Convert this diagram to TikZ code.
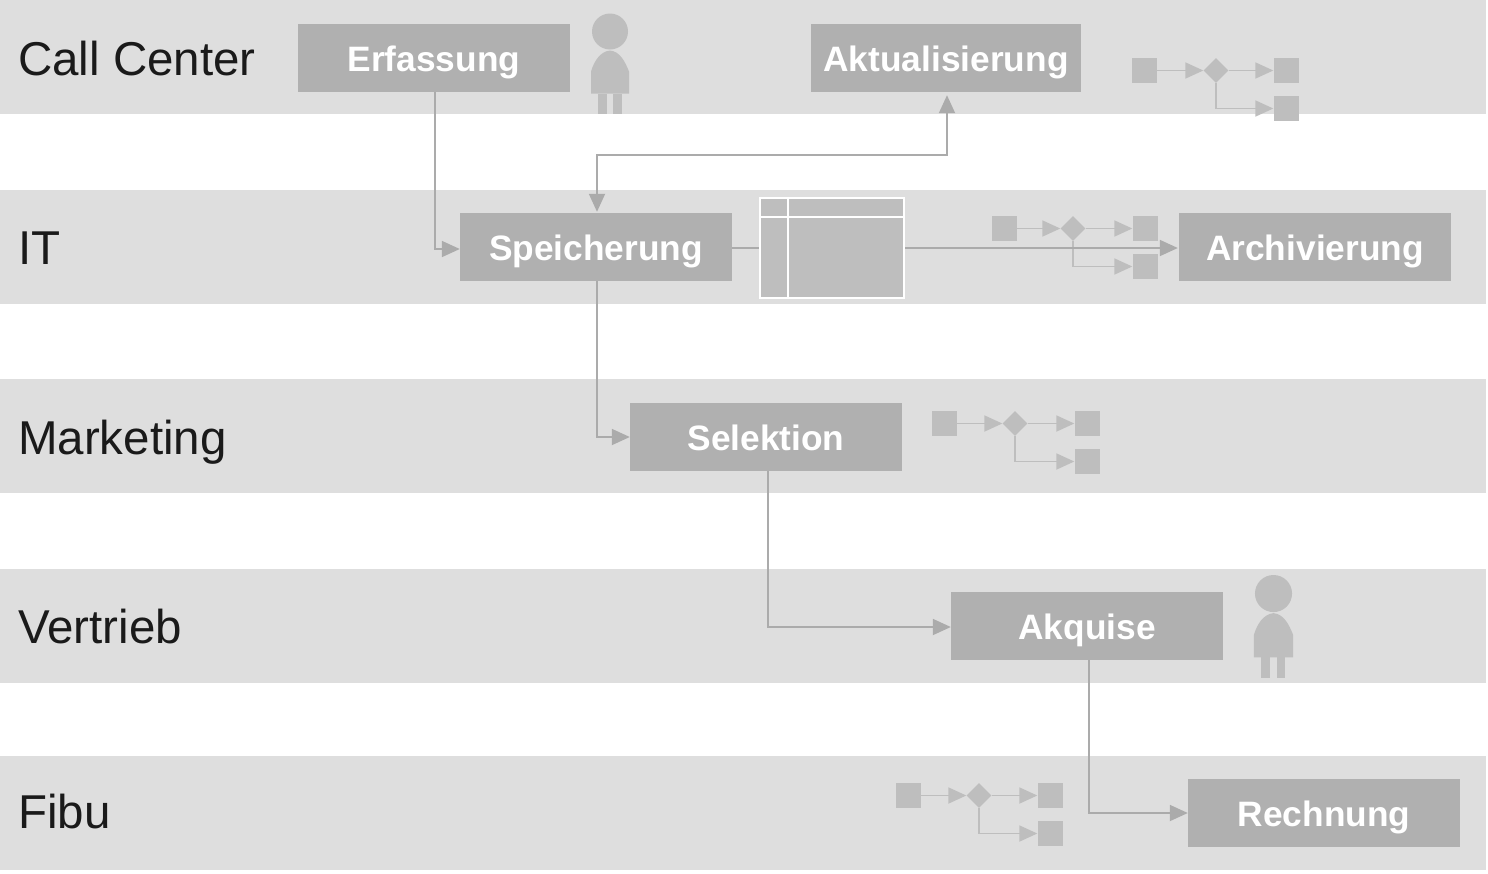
\documentclass[tikz,border=0pt]{standalone}
\usepackage{fontspec}
\setmainfont{Liberation Sans}
\usetikzlibrary{arrows.meta,shapes.geometric}
\definecolor{bandc}{HTML}{DEDEDE}
\definecolor{boxc}{HTML}{B0B0B0}
\definecolor{linec}{HTML}{ABABAB}
\definecolor{minic}{HTML}{BEBEBE}
\definecolor{labelc}{HTML}{1A1A1A}
\tikzset{
  band/.style={fill=bandc,draw=none},
  lane/.style={anchor=west,inner sep=0pt,text=labelc,text height=34pt,text depth=0pt,font=\fontsize{47.5}{50}\selectfont},
  stepbox/.style={fill=boxc,draw=none,inner sep=0pt,minimum height=68pt,minimum width=272pt,text=white,text height=26.5pt,text depth=0pt,font=\fontsize{35.3}{38}\bfseries\selectfont},
  flow/.style={draw=linec,line width=1.8pt,-{Triangle[length=18pt,width=16pt]}},
  flowplain/.style={draw=linec,line width=1.8pt},
  minibox/.style={fill=minic,draw=none,inner sep=0pt,minimum width=25pt,minimum height=25pt},
  minidia/.style={fill=minic,draw=none,diamond,inner sep=0pt,minimum width=25pt,minimum height=25pt},
  miniflow/.style={draw=minic,line width=1.8pt,-{Triangle[length=18pt,width=16pt]}},
  person/.style={fill=minic,draw=none},
  cell/.style={fill=minic,draw=white,line width=2.4pt,inner sep=0pt},
}
% #1 name prefix, #2 x of left square, #3 y of its top, #4 diamond offset, #5 right square offset
\newcommand{\miniproc}[5]{%
  \node[minibox] (#1a) at (#2+12.5,#3+12.5) {};
  \node[minidia] (#1d) at (#2+#4,#3+12.5) {};
  \node[minibox] (#1b) at (#2+#5,#3+12.5) {};
  \node[minibox] (#1c) at (#2+#5,#3+50.5) {};
  \draw[miniflow] (#1a.east) -- (#1d.west);
  \draw[miniflow] (#1d.east) -- (#1b.west);
  \draw[miniflow] (#1d.south) |- (#1c.west);
}
% #1 x centre, #2 y top of head, #3 scale
\newcommand{\persona}[3]{%
  \begin{scope}[shift={(#1,#2)},scale=#3]
    \fill[person] (0,18) circle (18pt);
    \fill[person] (-19,80) -- (-19,58) .. controls (-16,48) and (-10,38) .. (0,37) .. controls (10,38) and (15,48) .. (19,58) -- (19,80) -- cycle;
    \fill[person] (-12,80) rectangle (-3.5,100);
    \fill[person] (3,80) rectangle (11.5,100);
  \end{scope}
}
\begin{document}
\begin{tikzpicture}[x=1pt,y=-1pt]
\useasboundingbox (0,0) rectangle (1488,873);
\fill[white] (0,0) rectangle (1488,873);
% lanes
\fill[band] (0,0) rectangle (1486,114);
\fill[band] (0,190) rectangle (1486,304);
\fill[band] (0,379) rectangle (1486,493);
\fill[band] (0,569) rectangle (1486,683);
\fill[band] (0,756) rectangle (1486,870);
\node[lane] (l1) at (18,58.5) {Call Center};
\node[lane] (l2) at (18,247.5) {IT};
\node[lane] (l3) at (18,437.5) {Marketing};
\node[lane] (l4) at (18,626.5) {Vertrieb};
\node[lane] (l5) at (18,811.5) {Fibu};
% mini processes
\miniproc{ma}{1132}{58}{84}{154}
\miniproc{mb}{992}{216}{81}{153}
\miniproc{mc}{932}{411}{83}{155}
\miniproc{md}{896}{783}{83}{154}
% persons
\persona{610}{13.5}{1}
\persona{1273.5}{575}{1.03}
% table
\node[cell,minimum width=28pt,minimum height=19pt] (t1) at (774,207.5) {};
\node[cell,minimum width=116pt,minimum height=19pt] (t2) at (846,207.5) {};
\node[cell,minimum width=28pt,minimum height=81pt] (t3) at (774,257.5) {};
\node[cell,minimum width=116pt,minimum height=81pt] (t4) at (846,257.5) {};
\coordinate (tw) at (759,248);
\coordinate (te) at (905,248);
% steps
\node[stepbox] (erf) at (434,58) {Erfassung};
\node[stepbox,minimum width=270pt] (akt) at (946,58) {Aktualisierung};
\node[stepbox] (spe) at (596,247) {Speicherung};
\node[stepbox] (arc) at (1315,247) {Archivierung};
\node[stepbox] (sel) at (766,437) {Selektion};
\node[stepbox] (akq) at (1087,626) {Akquise};
\node[stepbox] (rec) at (1324,813) {Rechnung};
% connectors
\coordinate (c1) at (947,155);
\coordinate (c2) at (597,155);
\draw[flow] ([xshift=1pt]erf.south) |- ([yshift=-2pt]spe.west);
\draw[flow,{Triangle[length=18pt,width=16pt]}-{Triangle[length=18pt,width=16pt]},shorten >=1pt,shorten <=3pt]
  ([xshift=1pt]akt.south) -- (c1) -- (c2) -- ([xshift=1pt]spe.north);
\draw[flowplain] (tw -| spe.east) -- (tw);
\draw[flow,shorten >=1pt] (te) -- (te -| arc.west);
\draw[flow] ([xshift=1pt]spe.south) |- (sel.west);
\draw[flow] ([xshift=2pt]sel.south) |- ([yshift=-1pt]akq.west);
\draw[flow] ([xshift=2pt]akq.south) |- (rec.west);
\end{tikzpicture}
\end{document}
